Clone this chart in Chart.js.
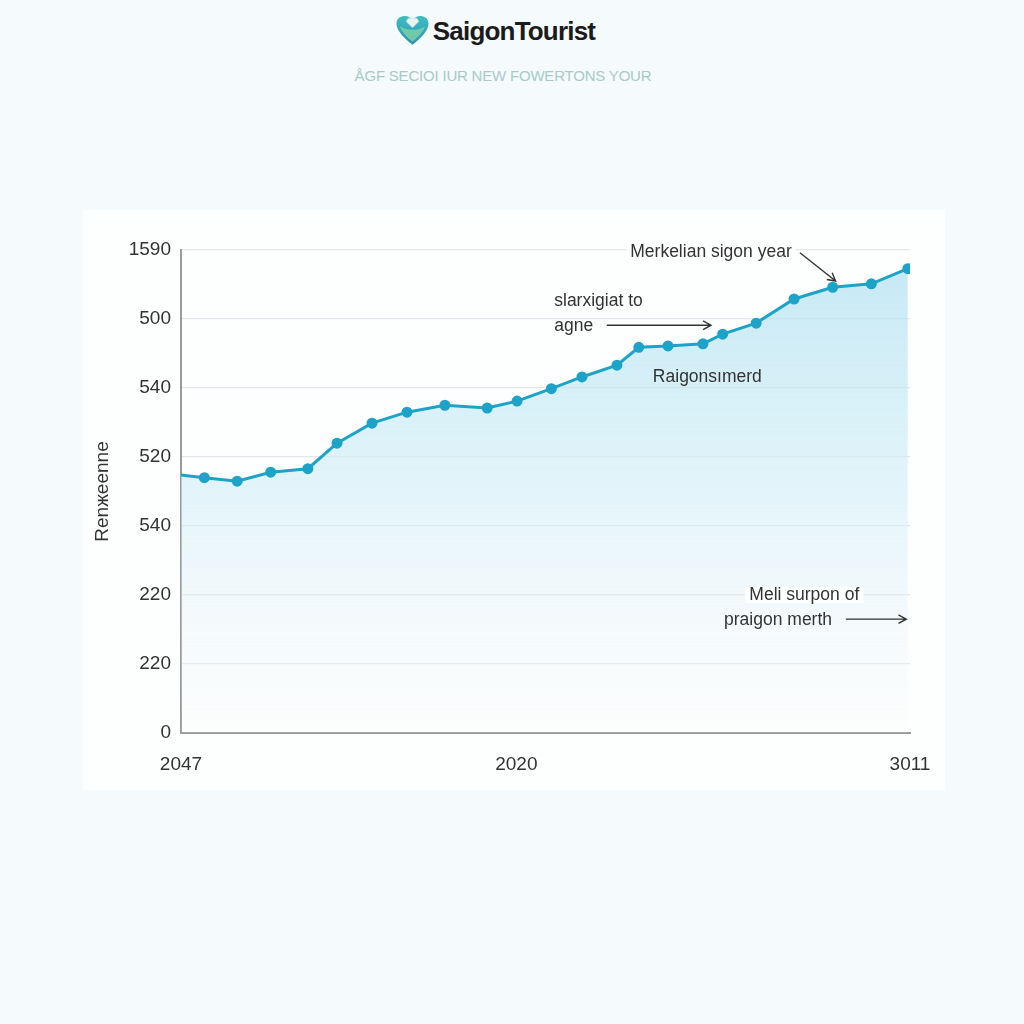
<!DOCTYPE html>
<html>
<head>
<meta charset="utf-8">
<script src="https://cdn.jsdelivr.net/npm/chart.js@4"></script>
<style>
  html, body { margin: 0; padding: 0; background: #f5fafc; }
  body { width: 1024px; height: 1024px; position: relative; overflow: hidden; font-family: "Liberation Sans", Arial, sans-serif; }
  .card { position: absolute; left: 83px; top: 210px; width: 862px; height: 580px; background: #fdfefe; }
  .brand { position: absolute; top: 15px; left: 0; width: 990px; text-align: center; }
  .brand .logo { display: inline-flex; align-items: center; gap: 3px; }
  .brand .name { font-weight: bold; font-size: 26px; letter-spacing: -0.8px; color: #1b1b1b; }
  .sub { position: absolute; top: 67px; left: 0; width: 1006px; text-align: center; font-size: 15px; color: #a8cac8; letter-spacing: -0.2px; }
  #wrap { position: absolute; left: 0; top: 0; width: 1024px; height: 1024px; }
</style>
</head>
<body>
<div class="card"></div>
<div class="brand">
  <span class="logo">
    <svg width="35" height="32" viewBox="0 0 32 30">
      <defs>
        <linearGradient id="hg" x1="0" y1="0" x2="0" y2="1">
          <stop offset="0" stop-color="#3fbfc0"/>
          <stop offset="1" stop-color="#2a8fb8"/>
        </linearGradient>
      </defs>
      <path d="M16 28 C6 20 1 14 1 8 C1 3 5 1 9 1 C12 1 14 3 16 5 C18 3 20 1 23 1 C27 1 31 3 31 8 C31 14 26 20 16 28 Z" fill="url(#hg)"/>
      <path d="M4 10 C9 15 23 15 28 10 C26 16 22 20 16 25 C10 20 6 16 4 10 Z" fill="#7fd3a4" opacity="0.8"/>
      <path d="M12 3 L20 3 L22 6 L16 12 L10 6 Z" fill="#e8f4f4" stroke="#b9d9da" stroke-width="0.6"/>
    </svg>
    <span class="name">SaigonTourist</span>
  </span>
</div>
<div class="sub">ÅGF SECIOI IUR NEW FOWERTONS YOUR</div>
<div id="wrap"><canvas id="chart" width="1024" height="1024"></canvas></div>
<script>
  // Data
  const xValues = [0, 3.2, 7.7, 12.3, 17.4, 21.4, 26.2, 31.0, 36.2, 42.0, 46.1, 50.8,
                   55.0, 59.8, 62.8, 66.8, 71.6, 74.3, 78.9, 84.1, 89.4, 94.7, 99.7];
  const yValues = [374, 370, 365, 378, 383, 420, 449, 465, 475, 471, 481, 499,
                   516, 533, 559, 561, 564, 578, 594, 629, 646, 651, 673];
  const yTickValues = [0, 100, 200, 300, 400, 500, 600, 700];
  const yTickLabels = ['0', '220', '220', '540', '520', '540', '500', '1590'];
  const xTickValues = [0, 46, 100];
  const xTickLabels = ['2047', '2020', '3011'];
  const yTitle = 'Renжeenne';

  // Annotations, placed in data units
  const notes = [
    { lines: ['Merkelian sigon year'], x: 72.7, y: 697, align: 'center', bg: true },
    { lines: ['slarxigiat to', 'agne'], x: 51.2, y: 626, align: 'left', gap: 36 },
    { lines: ['Raigonsımerd'], x: 72.2, y: 516, align: 'center' },
    { lines: ['Meli surpon of', 'praigon merth'], x: 85.5, y: 200, align: 'center', gap: 36, bg: true, offsets: [0, -3.6] }
  ];
  const arrows = [
    { x1: 84.9, y1: 696, x2: 89.8, y2: 655 },
    { x1: 58.4, y1: 591, x2: 72.7, y2: 591 },
    { x1: 91.2, y1: 165, x2: 99.5, y2: 165 }
  ];

  const lineColor = '#1ea3c8';
  const textColor = '#333333';

  const notesPlugin = {
    id: 'notes',
    afterDatasetsDraw(chart) {
      const { ctx, scales: { x, y } } = chart;
      ctx.save();
      ctx.font = '17.5px "Liberation Sans", Arial, sans-serif';
      ctx.textBaseline = 'middle';
      notes.forEach(n => {
        n.lines.forEach((t, i) => {
          const px = x.getPixelForValue(n.x + (n.offsets ? n.offsets[i] : 0));
          const py = y.getPixelForValue(n.y) + i * (n.gap || 0) * 0.69;
          ctx.textAlign = n.align;
          if (n.bg && i === 0) {
            const w = ctx.measureText(t).width + 8;
            const left = n.align === 'center' ? px - w / 2 : px - 4;
            ctx.fillStyle = '#fdfefe';
            ctx.fillRect(left, py - 8, w, 16);
          }
          ctx.fillStyle = textColor;
          ctx.fillText(t, px, py);
        });
      });
      ctx.strokeStyle = '#333';
      ctx.lineWidth = 1.4;
      arrows.forEach(a => {
        const x1 = x.getPixelForValue(a.x1), y1 = y.getPixelForValue(a.y1);
        const x2 = x.getPixelForValue(a.x2), y2 = y.getPixelForValue(a.y2);
        const ang = Math.atan2(y2 - y1, x2 - x1);
        ctx.beginPath();
        ctx.moveTo(x1, y1);
        ctx.lineTo(x2, y2);
        ctx.moveTo(x2 - 9 * Math.cos(ang - 0.5), y2 - 9 * Math.sin(ang - 0.5));
        ctx.lineTo(x2, y2);
        ctx.lineTo(x2 - 9 * Math.cos(ang + 0.5), y2 - 9 * Math.sin(ang + 0.5));
        ctx.stroke();
      });
      ctx.restore();
    }
  };

  new Chart(document.getElementById('chart'), {
    type: 'line',
    data: {
      datasets: [{
        data: xValues.map((v, i) => ({ x: v, y: yValues[i] })),
        borderColor: lineColor,
        borderWidth: 3,
        pointRadius: xValues.map((v, i) => i === 0 ? 0 : 4),
        pointBackgroundColor: lineColor,
        pointBorderColor: lineColor,
        tension: 0,
        fill: 'origin',
        backgroundColor: (c) => {
          const area = c.chart.chartArea;
          if (!area) return 'rgba(180,225,240,0.5)';
          const g = c.chart.ctx.createLinearGradient(0, area.top, 0, area.bottom);
          g.addColorStop(0, 'rgba(176,224,240,0.75)');
          g.addColorStop(0.5, 'rgba(205,236,246,0.55)');
          g.addColorStop(0.85, 'rgba(235,246,251,0.3)');
          g.addColorStop(1, 'rgba(250,253,254,0.1)');
          return g;
        }
      }]
    },
    options: {
      responsive: false,
      animation: false,
      layout: { padding: { left: 91, right: 114, top: 250, bottom: 241 } },
      plugins: { legend: { display: false }, tooltip: { enabled: false } },
      scales: {
        x: {
          type: 'linear',
          min: 0, max: 100,
          afterFit: s => { s.height = 50; },
          afterBuildTicks: s => { s.ticks = xTickValues.map(v => ({ value: v })); },
          ticks: {
            callback: v => xTickLabels[xTickValues.indexOf(v)],
            color: textColor,
            font: { family: '"Liberation Sans", Arial, sans-serif', size: 19 },
            padding: 12,
            maxRotation: 0
          },
          grid: { display: false },
          border: { color: '#9a9a9a', width: 2 }
        },
        y: {
          min: 0, max: 700,
          afterFit: s => { s.width = 90; },
          afterBuildTicks: s => { s.ticks = yTickValues.map(v => ({ value: v })); },
          ticks: {
            callback: v => yTickLabels[yTickValues.indexOf(v)],
            color: textColor,
            font: { family: '"Liberation Sans", Arial, sans-serif', size: 19 },
            padding: 10
          },
          grid: { color: '#e2e8ea', lineWidth: 1.2, drawTicks: false },
          border: { color: '#9a9a9a', width: 2 },
          title: {
            display: true,
            text: yTitle,
            color: textColor,
            font: { family: '"Liberation Sans", Arial, sans-serif', size: 19 },
            padding: 0
          }
        }
      }
    },
    plugins: [notesPlugin]
  });
</script>
</body>
</html>
